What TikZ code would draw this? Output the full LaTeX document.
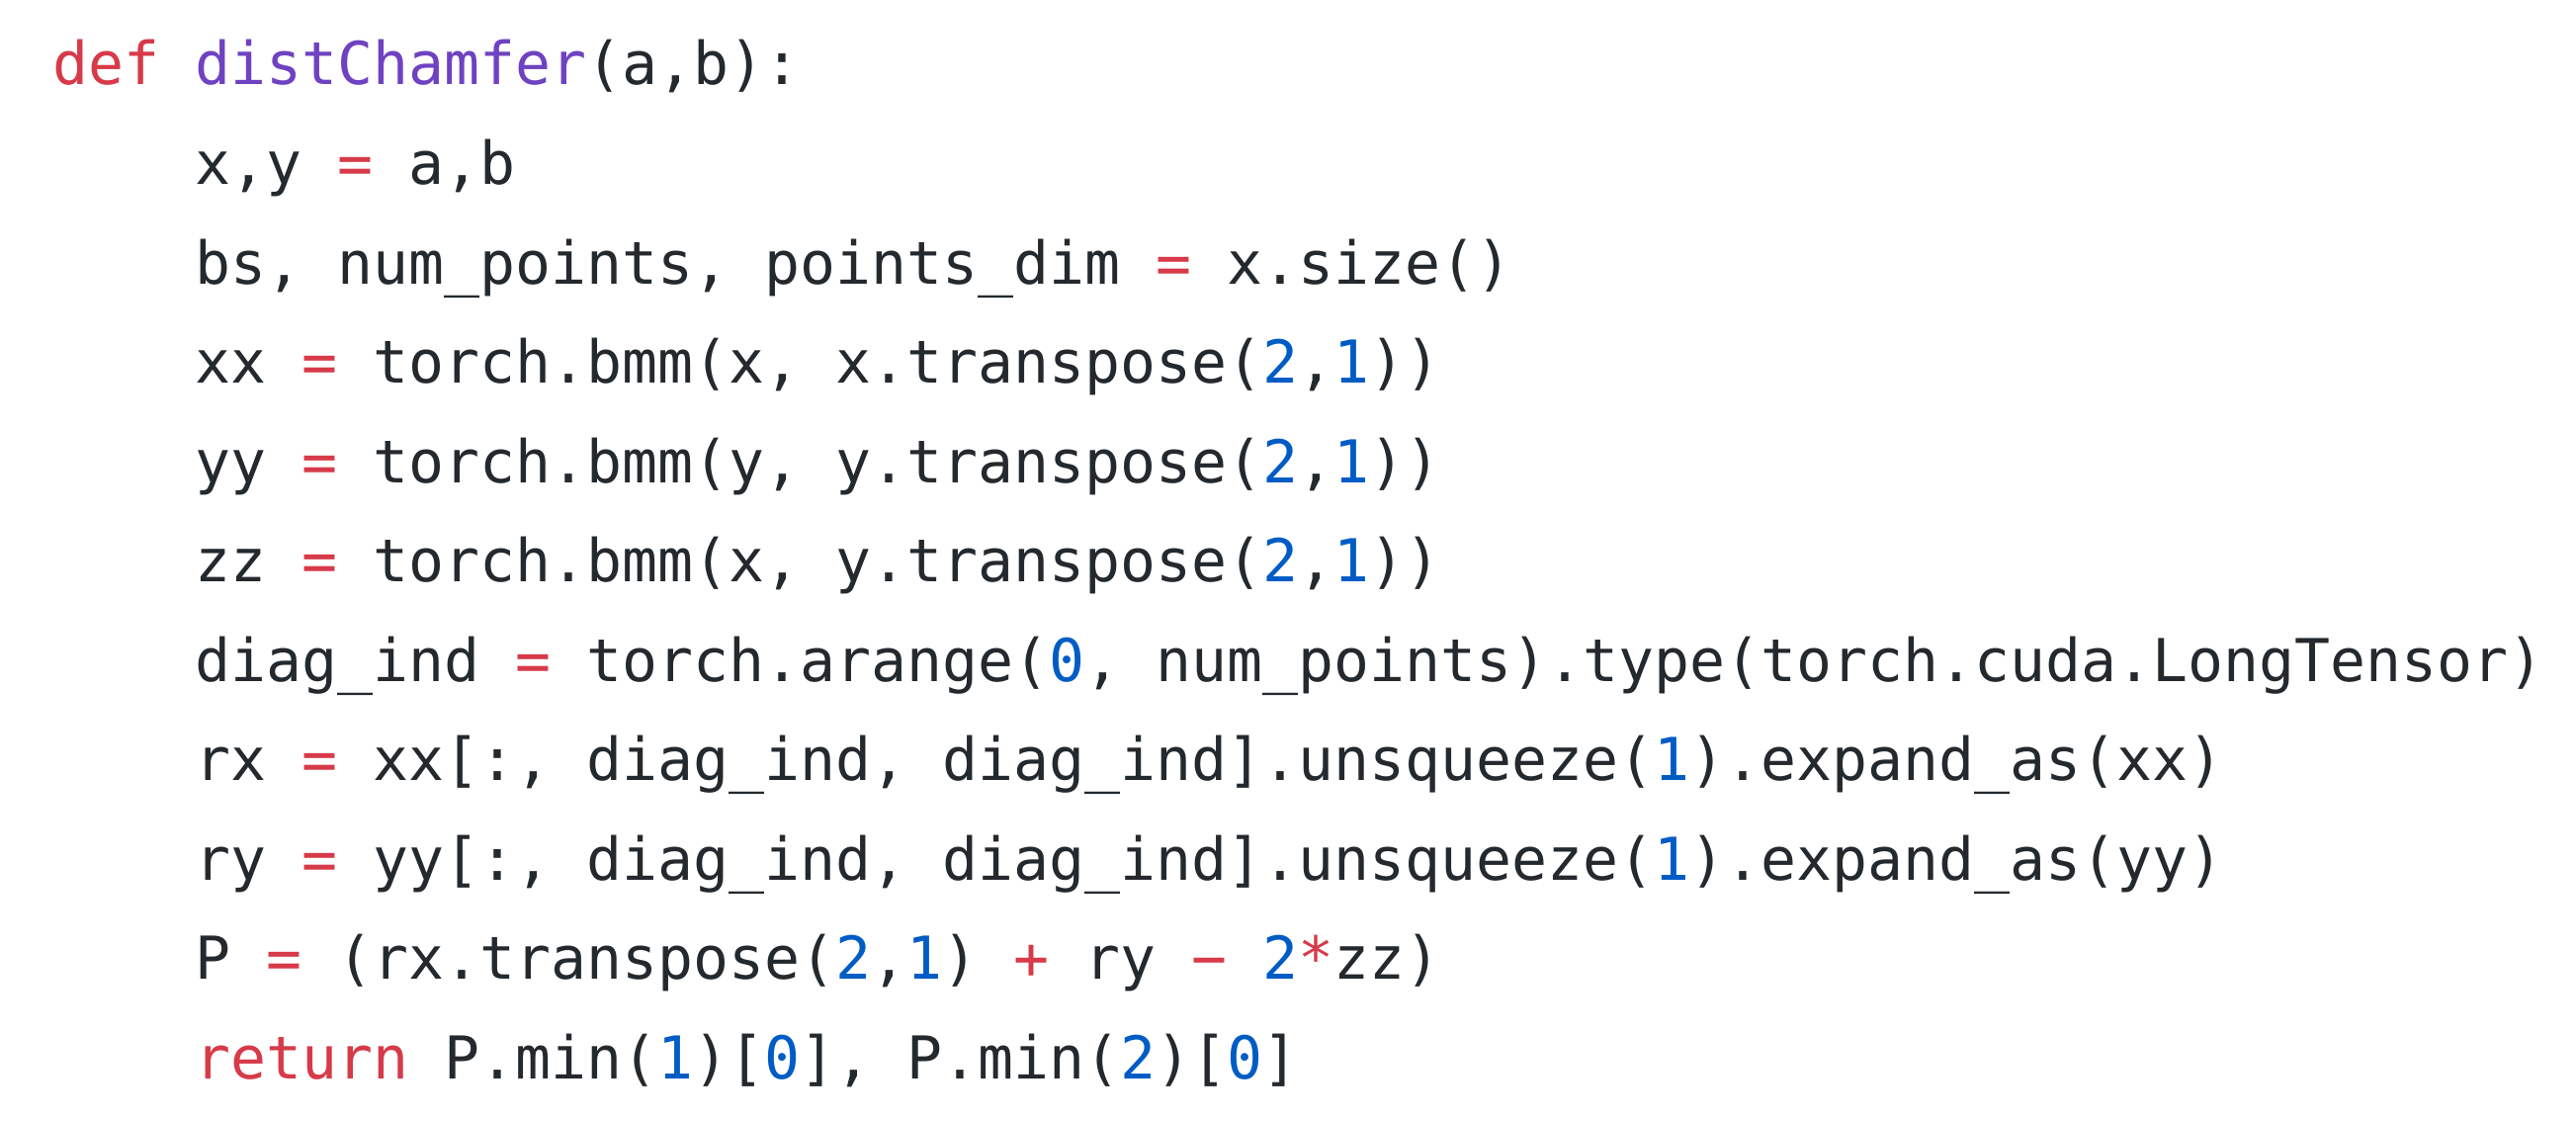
\documentclass[tikz,border=0pt]{standalone}
\usepackage{fontspec}
\setmonofont{DejaVu Sans Mono}
\definecolor{kw}{HTML}{D73A49}
\definecolor{fn}{HTML}{6F42C1}
\definecolor{num}{HTML}{005CC5}
\definecolor{txt}{HTML}{24292E}
\newcommand{\Kw}[1]{\textcolor{kw}{#1}}
\newcommand{\Fn}[1]{\textcolor{fn}{#1}}
\newcommand{\Nm}[1]{\textcolor{num}{#1}}
\begin{document}
\begin{tikzpicture}[x=0.5pt,y=-0.5pt,
  codeline/.style={anchor=base west,inner sep=0pt,text=txt,font=\ttfamily\fontsize{29.9pt}{36pt}\selectfont}]
\useasboundingbox[fill=white] (0,0) rectangle (2606,1134);
\node[codeline] (l0) at (53,86) {\Kw{def} \Fn{distChamfer}(a,b):};
\node[codeline] (l1) at (197,186.5) {x,y \Kw{=} a,b};
\node[codeline] (l2) at (197,287) {bs, num\_points, points\_dim \Kw{=} x.size()};
\node[codeline] (l3) at (197,387.5) {xx \Kw{=} torch.bmm(x, x.transpose(\Nm{2},\Nm{1}))};
\node[codeline] (l4) at (197,488) {yy \Kw{=} torch.bmm(y, y.transpose(\Nm{2},\Nm{1}))};
\node[codeline] (l5) at (197,588.5) {zz \Kw{=} torch.bmm(x, y.transpose(\Nm{2},\Nm{1}))};
\node[codeline] (l6) at (197,689) {diag\_ind \Kw{=} torch.arange(\Nm{0}, num\_points).type(torch.cuda.LongTensor)};
\node[codeline] (l7) at (197,789.5) {rx \Kw{=} xx[:, diag\_ind, diag\_ind].unsqueeze(\Nm{1}).expand\_as(xx)};
\node[codeline] (l8) at (197,890) {ry \Kw{=} yy[:, diag\_ind, diag\_ind].unsqueeze(\Nm{1}).expand\_as(yy)};
\node[codeline] (l9) at (197,990.5) {P \Kw{=} (rx.transpose(\Nm{2},\Nm{1}) \Kw{+} ry \Kw{−} \Nm{2}\Kw{*}zz)};
\node[codeline] (l10) at (197,1091) {\Kw{return} P.min(\Nm{1})[\Nm{0}], P.min(\Nm{2})[\Nm{0}]};
\end{tikzpicture}
\end{document}
